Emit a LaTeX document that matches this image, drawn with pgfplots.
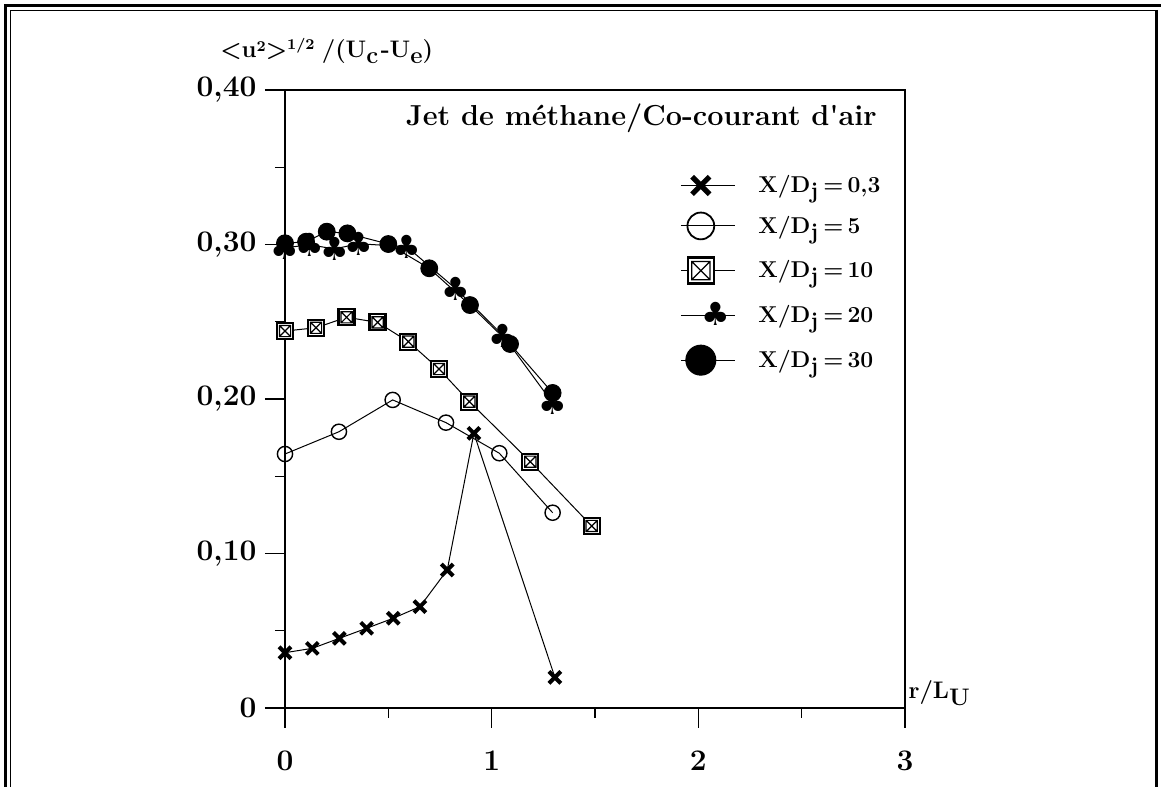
\documentclass[border=0pt]{standalone}
\usepackage{fontspec}
\usepackage{pgfplots}
\pgfplotsset{compat=1.18}
\newfontfamily\clubfont{DejaVu Sans}

% square with a cross inside
\pgfdeclareplotmark{boxx}{%
  \pgfpathrectangle{\pgfpoint{-\pgfplotmarksize}{-\pgfplotmarksize}}{\pgfpoint{2\pgfplotmarksize}{2\pgfplotmarksize}}%
  \pgfsetfillcolor{white}%
  \pgfusepath{fill,stroke}%
  \pgfscope
  \pgfsetlinewidth{0.6bp}%
  \pgfpathrectangle{\pgfpoint{-0.7\pgfplotmarksize}{-0.7\pgfplotmarksize}}{\pgfpoint{1.4\pgfplotmarksize}{1.4\pgfplotmarksize}}%
  \pgfpathmoveto{\pgfpoint{-0.7\pgfplotmarksize}{-0.7\pgfplotmarksize}}%
  \pgfpathlineto{\pgfpoint{0.7\pgfplotmarksize}{0.7\pgfplotmarksize}}%
  \pgfpathmoveto{\pgfpoint{-0.7\pgfplotmarksize}{0.7\pgfplotmarksize}}%
  \pgfpathlineto{\pgfpoint{0.7\pgfplotmarksize}{-0.7\pgfplotmarksize}}%
  \pgfusepath{stroke}%
  \endpgfscope
}

\newcommand{\lblfont}{\fontsize{12}{14}\selectfont\bfseries}
\newcommand{\legfont}{\fontsize{11.5}{13}\selectfont\bfseries}
\newcommand{\XD}[1]{X/D\raisebox{-0.6ex}{j}\hspace{0.22em}=\hspace{0.18em}#1}

\begin{document}
\begin{tikzpicture}
\useasboundingbox (0,0) rectangle (580.5bp,393.5bp);
\begin{axis}[
    at={(142.5bp,39.5bp)}, anchor=south west,
    scale only axis, width=310bp, height=309bp,
    xmin=0, xmax=3, ymin=0, ymax=0.4,
    xtick={0,1,2,3}, minor xtick={0.5,1.5,2.5},
    ytick={0,0.1,0.2,0.3,0.4}, minor ytick={0.05,0.15,0.25,0.35},
    xticklabels={0,1,2,3},
    yticklabels={0,{0,10},{0,20},{0,30},{0,40}},
    tick align=outside, xtick pos=bottom, ytick pos=left,
    major tick length=10bp, minor tick length=5bp,
    tick style={black, line width=0.6bp},
    axis line style={line width=0.6bp},
    ticklabel style={font=\fontsize{15}{16}\selectfont\bfseries},
    xticklabel style={yshift=-8bp},
    yticklabel style={xshift=-0.75bp},
    clip=false,
    every axis plot/.append style={black, line width=0.5bp},
    legend image code/.code={
        \draw[#1, mark indices={2}] plot coordinates {(0bp,0bp)(10bp,0bp)(27bp,0bp)};
    },
    legend style={draw=none, fill=none, inner sep=0pt, font=\legfont,
        at={(rel axis cs:0.637,0.8625)}, anchor=north west,
        column sep=11.5bp, row sep=8.5bp, nodes={inner sep=0pt}},
    legend cell align=left,
]
\addlegendimage{mark=x, mark size=6.2bp, mark options={line width=2.6bp}}
\addlegendentry{\XD{0,3}}
\addlegendimage{mark=o, mark size=6.7bp, mark options={line width=0.9bp}}
\addlegendentry{\XD{5}}
\addlegendimage{mark=boxx, mark size=6.5bp, mark options={line width=1.3bp}}
\addlegendentry{\XD{10}}
\addlegendimage{mark=text, text mark={\symbol{"2663}}, text mark as node=true,
    text mark style={font=\clubfont\fontsize{16}{16}\selectfont, inner sep=0pt}}
\addlegendentry{\XD{20}}
\addlegendimage{mark=*, mark size=7.5bp}
\addlegendentry{\XD{30}}

% X/Dj = 0,3
\addplot[mark=x, mark size=4.2bp, mark options={line width=2bp}, forget plot] coordinates {
(0,0.0358)(0.132,0.0386)(0.263,0.0451)(0.395,0.0516)(0.524,0.0581)
(0.653,0.0656)(0.785,0.0893)(0.914,0.1778)(1.306,0.0198)
};
% X/Dj = 5
\addplot[mark=o, mark size=3.8bp, mark options={line width=0.7bp}, forget plot] coordinates {
(0,0.1644)(0.261,0.1788)(0.521,0.1994)(0.779,0.1847)(1.037,0.1649)(1.295,0.1264)
};
% X/Dj = 10
\addplot[mark=boxx, mark size=4bp, mark options={line width=1.1bp}, forget plot] coordinates {
(0,0.2440)(0.150,0.2461)(0.298,0.2529)(0.448,0.2496)(0.597,0.2371)
(0.745,0.2194)(0.892,0.1983)(1.187,0.1594)(1.484,0.1178)
};
% X/Dj = 20
\addplot[mark=text, text mark={\symbol{"2663}}, text mark as node=true,
    text mark style={font=\clubfont\fontsize{16}{16}\selectfont, inner sep=0pt}, forget plot] coordinates {
(0,0.2979)(0.121,0.2998)(0.239,0.2971)(0.355,0.3005)(0.589,0.2986)
(0.826,0.2714)(1.056,0.2410)(1.295,0.1974)
};
% X/Dj = 30
\addplot[mark=*, mark size=4.2bp, forget plot] coordinates {
(0,0.3008)(0.102,0.3018)(0.202,0.3083)(0.302,0.3072)(0.500,0.3003)
(0.698,0.2846)(0.895,0.2608)(1.089,0.2356)(1.295,0.2039)
};

\node[anchor=base east, inner sep=0pt, font=\fontsize{14.5}{16}\selectfont\bfseries]
    at (rel axis cs:0.955,0.943)
    {Jet de méthane/Co-courant d\textquotesingle air};
\node[anchor=base west, inner sep=0pt, font=\fontsize{12}{14}\selectfont\bfseries]
    at (rel axis cs:-0.105,1.053)
    {\textless u\raisebox{0.55ex}{\fontsize{7.5}{8}\selectfont 2}\textgreater\raisebox{0.7ex}{\fontsize{7.5}{8}\selectfont 1/2}\hspace{0.3em}/(U\raisebox{-0.6ex}{c}\hspace{0.1em}-U\raisebox{-0.6ex}{e})};
\node[anchor=base west, inner sep=0pt, font=\lblfont] at (rel axis cs:1.005,0.0146)
    {r/L\raisebox{-0.6ex}{U}};
\end{axis}
% double frame
\draw[line width=1.5bp] (2.75bp,-5bp) -- (2.75bp,390.75bp) -- (600bp,390.75bp);
\draw[line width=0.7bp] (5.25bp,-5bp) -- (5.25bp,388.25bp) -- (578.25bp,388.25bp);
\draw[line width=1.4bp] (578.25bp,388.6bp) -- (578.25bp,-5bp);
\end{tikzpicture}
\end{document}
